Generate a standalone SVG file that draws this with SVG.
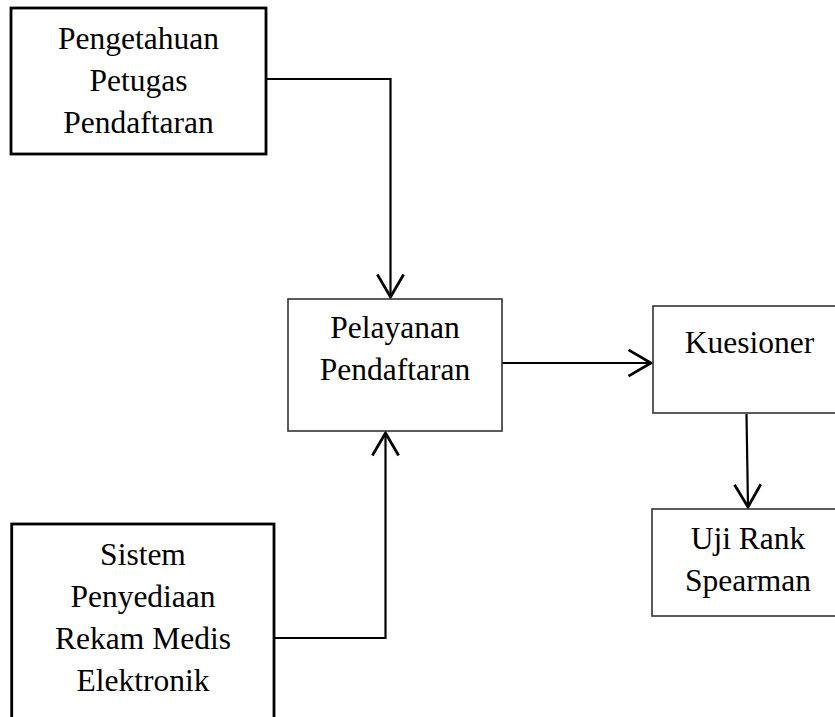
<svg xmlns="http://www.w3.org/2000/svg" width="835" height="717" viewBox="0 0 835 717">
<style>
  .thick { fill: #fff; stroke: #000; stroke-width: 2.8; }
  .thin { fill: #fff; stroke: #333; stroke-width: 1.6; }
  .lbl { font-family: "Liberation Serif", "Times New Roman", serif; font-size: 31.5px; fill: #000; text-anchor: middle; }
  .conn { fill: none; stroke: #000; stroke-width: 2.2; marker-end: url(#arrow); }
</style>
<defs>
  <marker id="arrow" markerUnits="userSpaceOnUse" orient="auto" refX="0" refY="0" markerWidth="30" markerHeight="30" viewBox="-20 -12 22 24" overflow="visible">
    <path d="M -18 -10.5 L 0 0 L -18 10.5" fill="none" stroke="#000" stroke-width="2.2"/>
  </marker>
</defs>
<rect width="835" height="717" fill="#fff"/>
<g id="connectors">
  <path class="conn" d="M 266 79 H 390.5 V 297"/>
  <path class="conn" d="M 274 638 H 385.5 V 433"/>
  <path class="conn" d="M 502 363 H 651"/>
  <path class="conn" d="M 746.5 414 L 748 507"/>
</g>
<g id="node-pengetahuan">
  <rect class="thick" x="11" y="8" width="255" height="146"/>
  <text class="lbl" x="138.5" y="49">Pengetahuan</text>
  <text class="lbl" x="138.5" y="91">Petugas</text>
  <text class="lbl" x="138.5" y="133">Pendaftaran</text>
</g>
<g id="node-pelayanan">
  <rect class="thin" x="288" y="299" width="214" height="132"/>
  <text class="lbl" x="395" y="338">Pelayanan</text>
  <text class="lbl" x="395" y="380">Pendaftaran</text>
</g>
<g id="node-kuesioner">
  <rect class="thin" x="653" y="306" width="220" height="107"/>
  <text class="lbl" x="749.5" y="353">Kuesioner</text>
</g>
<g id="node-uji">
  <rect class="thin" x="652" y="509" width="220" height="107"/>
  <text class="lbl" x="748" y="549">Uji Rank</text>
  <text class="lbl" x="748" y="591">Spearman</text>
</g>
<g id="node-sistem">
  <rect class="thick" x="11.7" y="524" width="262.3" height="220"/>
  <text class="lbl" x="143" y="565">Sistem</text>
  <text class="lbl" x="143" y="607">Penyediaan</text>
  <text class="lbl" x="143" y="649">Rekam Medis</text>
  <text class="lbl" x="143" y="691">Elektronik</text>
</g>
</svg>
